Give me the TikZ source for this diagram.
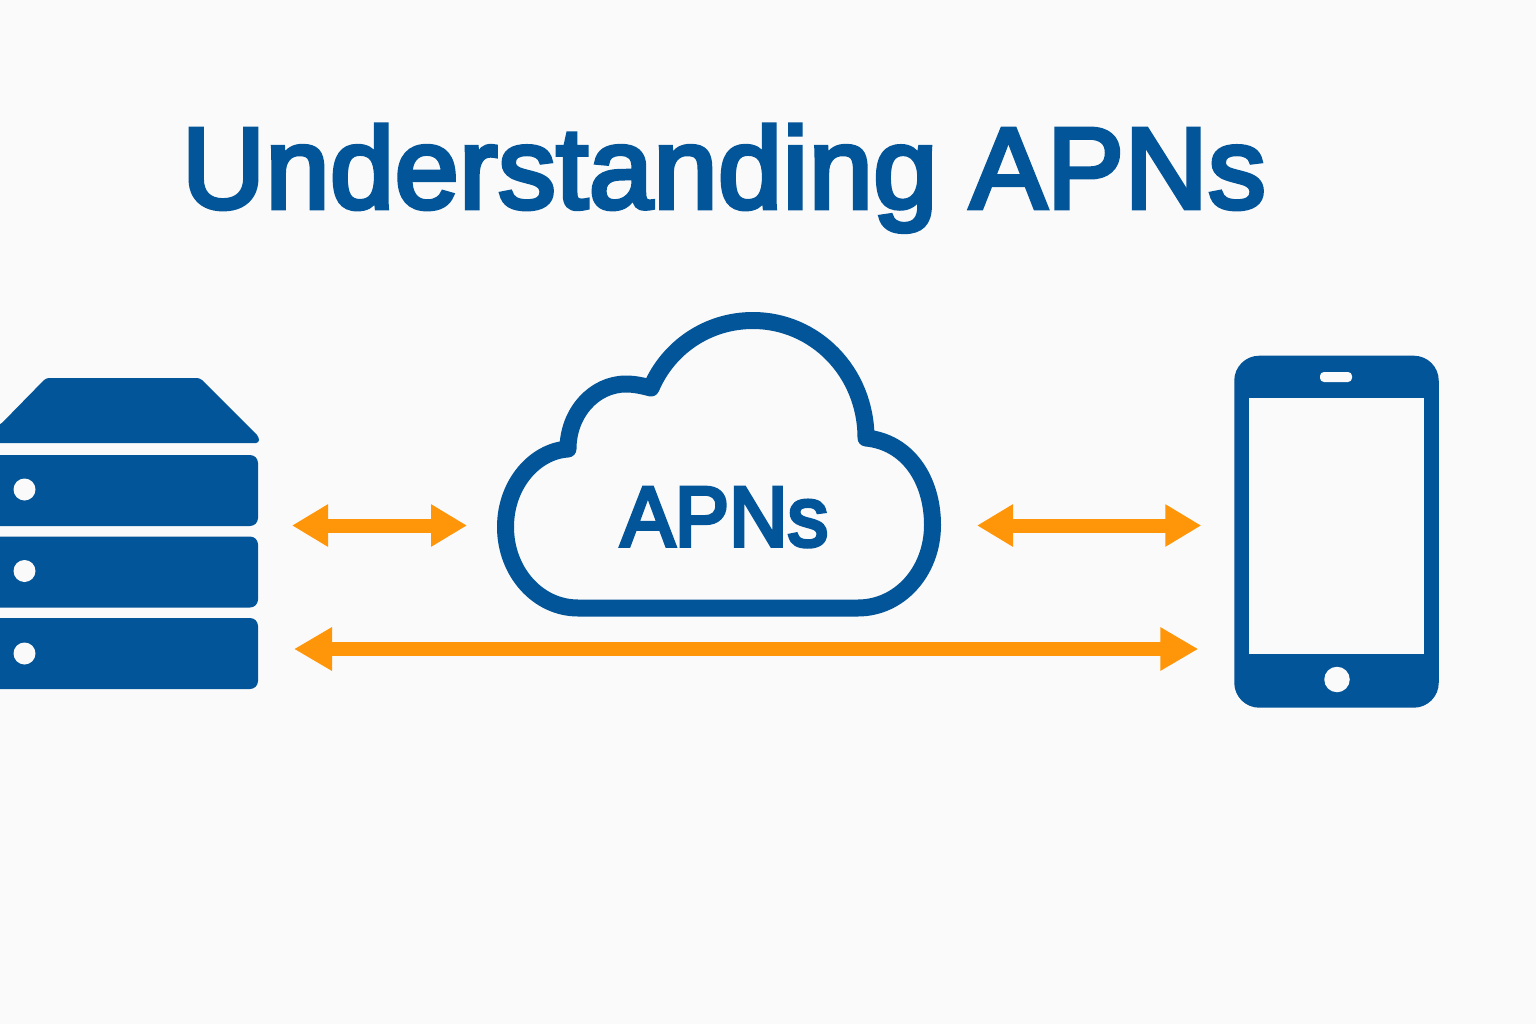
\documentclass[tikz,border=0pt]{standalone}
\usepackage{fontspec}
\setmainfont{Liberation Sans}
\newfontfamily\headfont[FakeBold=4,LetterSpace=0.55]{Liberation Sans}
\newfontfamily\labelfont[FakeBold=4.5,FakeStretch=0.955]{Liberation Sans}
\usetikzlibrary{arrows.meta}
\definecolor{apnblue}{RGB}{3,85,153}
\definecolor{apnorange}{RGB}{255,149,8}
\definecolor{apnbg}{RGB}{250,250,250}
\tikzset{
  slab/.style={fill=apnblue,draw=none,rounded corners=8pt,minimum width=298pt,minimum height=71pt,inner sep=0pt,outer sep=0pt},
  hole/.style={fill=apnbg,draw=none,circle,minimum size=22pt,inner sep=0pt},
  region/.style={draw=none,inner sep=0pt,outer sep=0pt},
  link/.style={draw=apnorange,line width=14pt,{Triangle[length=36pt,width=40pt]}-{Triangle[length=36pt,width=40pt]}},
  longlink/.style={draw=apnorange,line width=14pt,{Triangle[length=38pt,width=41pt]}-{Triangle[length=38pt,width=41pt]}},
  titletext/.style={text=apnblue,anchor=base,inner sep=0pt,font=\fontsize{115}{115}\selectfont\headfont},
  cloudtext/.style={text=apnblue,anchor=base,inner sep=0pt,font=\fontsize{85}{85}\selectfont\labelfont}
}
\begin{document}
\begin{tikzpicture}[x=1pt,y=-1pt]
\useasboundingbox (0,0) rectangle (1536,1024);
\clip (0,0) rectangle (1536,1024);
\fill[apnbg] (0,0) rectangle (1536,1024);
\node[titletext] (title) at (724,208) {Understanding APNs};
% server
\fill[apnblue,rounded corners=3pt] (-40,443) -- (-40,425) -- (0,425) -- (46,378) -- (200,378) -- (259,437) -- (259,443) -- cycle;
\node[slab] (s1) at (109,490.5) {};
\node[slab] (s2) at (109,572) {};
\node[slab] (s3) at (109,653.5) {};
\node[hole] (h1) at (24.5,489.5) {};
\node[hole] (h2) at (24.5,571) {};
\node[hole] (h3) at (24.5,653.5) {};
% cloud
\draw[apnblue,line width=17pt,line join=round,fill=apnbg]
  (578,608) .. controls (538,608) and (505.5,572) .. (505.5,527)
  .. controls (505.5,484) and (535,451) .. (568,449)
  .. controls (568,413) and (594,384) .. (626,384)
  .. controls (635,384) and (643,386) .. (651,388)
  .. controls (668,348) and (707,320.5) .. (753,320.5)
  .. controls (815,320.5) and (866,372) .. (866,438)
  .. controls (908,442) and (932.5,480) .. (932.5,525)
  .. controls (932.5,572) and (899,608) .. (858,608) -- cycle;
\node[cloudtext] (cloudlabel) at (724.5,546) {APNs};
% phone
\node[fill=apnblue,draw=none,rounded corners=25pt,minimum width=204.5pt,minimum height=352pt,inner sep=0pt,outer sep=0pt] (phone) at (1336.5,531.7) {};
\node[fill=apnbg,draw=none,minimum width=175.6pt,minimum height=256.3pt,inner sep=0pt] (screen) at (1336.5,525.8) {};
\node[fill=apnbg,draw=none,rounded corners=4pt,minimum width=32pt,minimum height=10pt,inner sep=0pt] (speaker) at (1336,377) {};
\node[hole,minimum size=25.5pt] (homebtn) at (1337,679.5) {};
% connector anchors
\node[region,minimum width=298pt,minimum height=311pt] (server) at (109,533.5) {};
\node[region,minimum width=444pt,minimum height=305pt] (cloud) at (719,464.5) {};
\coordinate (rowa) at (0,525.5);
\coordinate (rowb) at (0,649);
\draw[link,shorten <=34pt,shorten >=30pt] (server.east |- rowa) -- (cloud.west |- rowa);
\draw[link,shorten <=36pt,shorten >=33pt] (cloud.east |- rowa) -- (phone.west |- rowa);
\draw[longlink,shorten <=36pt,shorten >=36pt] (server.east |- rowb) -- (phone.west |- rowb);
\end{tikzpicture}
\end{document}
